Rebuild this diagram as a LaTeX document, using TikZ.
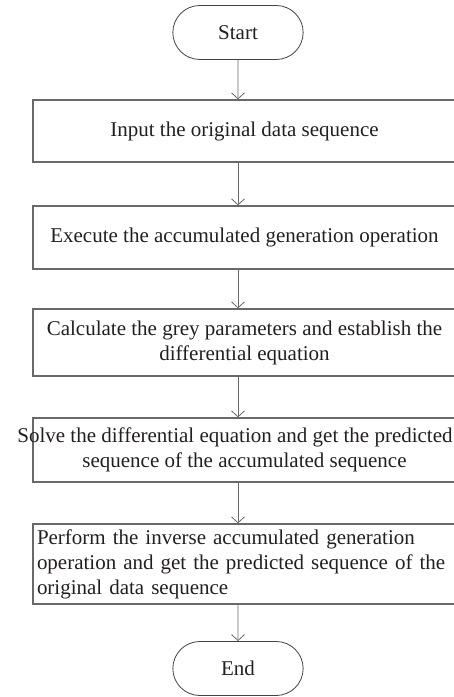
\documentclass[tikz,border=0pt]{standalone}
\usepackage{fontspec}
\setmainfont{Liberation Serif}
\usetikzlibrary{arrows.meta,positioning,shapes.misc}
\definecolor{linegray}{RGB}{105,105,105}
\definecolor{inkgray}{RGB}{35,31,32}

\begin{document}
\begin{tikzpicture}[x=1pt,y=-1pt,>={Straight Barb[length=6pt,width=13pt]},
  every node/.style={font=\fontsize{21}{25}\selectfont,text=inkgray},
  term/.style={rounded rectangle,draw=inkgray!85,line width=0.8pt,minimum width=137pt,minimum height=54pt},
  procbox/.style={draw=linegray,line width=1.3pt,minimum width=423pt,align=center,inner xsep=4pt},
  flow/.style={->,draw=linegray,line width=0.8pt}]
  \useasboundingbox (0,0) rectangle (454,697);
  \node[term] (start) at (238,32.5) {Start};
  \node[procbox,minimum height=62pt] (input) at (244.5,131) {Input the original data sequence};
  \node[procbox,minimum height=63pt] (ago) at (244.5,237.5) {Execute the accumulated generation operation};
  \node[procbox,minimum height=67pt] (param) at (244.5,342.5) {Calculate the grey parameters and establish the\\ differential equation};
  \node[procbox,minimum height=64pt] (solve) at (244.5,450) {\makebox[0pt]{Solve the differential equation and get the predicted\hspace{19pt}}\\ sequence of the accumulated sequence};
  \node[procbox,minimum height=80pt,text width=415pt,align=left] (iago) at (244.5,564) {Perform the inverse accumulated generation\\ operation and get the predicted sequence of the\\ original data sequence};
  \node[term] (end) at (238,668.5) {End};
  \draw[flow] (start) -- (start |- input.north);
  \draw[flow] (input.south -| start) -- (ago.north -| start);
  \draw[flow] (ago.south -| start) -- (param.north -| start);
  \draw[flow] (param.south -| start) -- (solve.north -| start);
  \draw[flow] (solve.south -| start) -- (iago.north -| start);
  \draw[flow] (iago.south -| start) -- (end);
\end{tikzpicture}
\end{document}
